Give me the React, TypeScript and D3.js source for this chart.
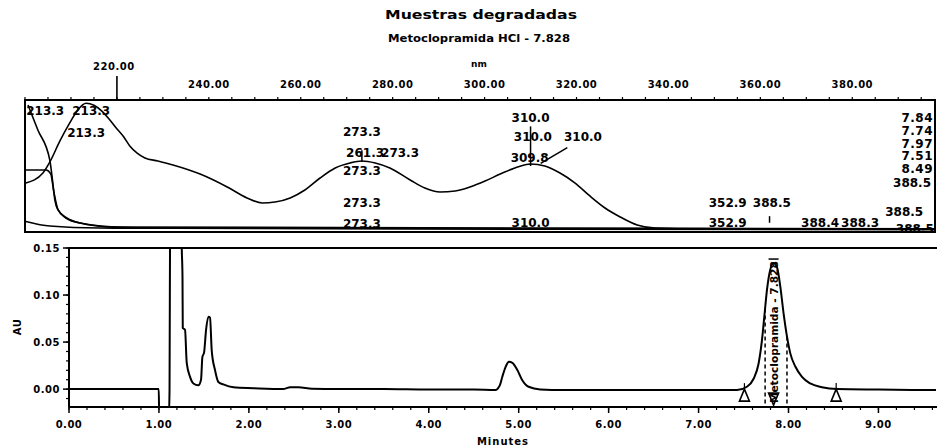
import React from "react";
import * as d3 from "d3";

const WIDTH = 939;
const HEIGHT = 447;

// ---- PDA spectra: [wavelength nm, relative absorbance] ----
const spectrum784: [number, number][] = [
  [200.2, 0.371], [203.9, 0.447], [205.4, 0.53], [207.6, 0.69], [209.8, 0.83],
  [211.6, 0.93], [213.3, 0.975], [215.0, 0.96], [216.6, 0.92], [218.2, 0.86],
  [219.8, 0.79], [221.5, 0.72], [222.8, 0.652], [224.4, 0.598], [226.1, 0.561],
  [228.9, 0.538], [232.2, 0.508], [238.1, 0.439], [244.0, 0.341], [248.3, 0.258],
  [251.6, 0.22], [254.4, 0.227], [257.7, 0.258], [260.9, 0.318], [264.2, 0.409],
  [267.5, 0.485], [270.7, 0.523], [273.3, 0.538], [276.2, 0.523], [279.4, 0.485],
  [283.8, 0.394], [287.0, 0.333], [290.3, 0.303], [293.6, 0.311], [296.8, 0.341],
  [300.1, 0.386], [303.4, 0.439], [306.6, 0.485], [310.0, 0.515], [313.1, 0.5],
  [316.4, 0.447], [319.7, 0.371], [322.9, 0.273], [326.2, 0.182], [329.5, 0.114],
  [333.2, 0.053], [337.1, 0.03], [346.9, 0.023], [398.0, 0.023],
];
const spectrum751: [number, number][] = [
  [200.65, 0.962], [202.8, 0.773], [205.4, 0.545], [206.1, 0.356], [206.5, 0.242],
  [207.2, 0.167], [209.1, 0.106], [212.0, 0.068], [218.5, 0.038], [229.4, 0.03],
  [398.0, 0.023],
];
const spectrum797: [number, number][] = [
  [200.2, 0.47], [204.6, 0.47], [205.6, 0.44], [206.3, 0.3], [207.2, 0.167],
  [208.9, 0.106], [212.0, 0.068], [221.0, 0.038], [398.0, 0.025],
];
const spectrum849: [number, number][] = [
  [200.2, 0.08], [205.4, 0.045], [216.3, 0.03], [232.0, 0.028], [398.0, 0.018],
];

// retention times of the overlaid spectra
const spectrumTimes = ["7.84", "7.74", "7.97", "7.51", "8.49"];

// wavelength axis
const wavelengthTicks = [240, 260, 280, 300, 320, 340, 360, 380];
const selectedWavelength = 220;

// peak maxima labels: [text, wavelength nm, relative absorbance]
const peakLabels: [string, number, number][] = [
  ["213.3", 204.4, 0.886],
  ["213.3", 214.4, 0.886],
  ["213.3", 213.3, 0.72],
  ["273.3", 273.3, 0.727],
  ["261.3", 274.0, 0.568],
  ["273.3", 281.6, 0.568],
  ["273.3", 273.3, 0.432],
  ["273.3", 273.3, 0.189],
  ["273.3", 273.3, 0.03],
  ["310.0", 310.0, 0.833],
  ["310.0", 310.5, 0.689],
  ["310.0", 321.4, 0.689],
  ["309.8", 309.8, 0.53],
  ["310.0", 310.0, 0.038],
  ["352.9", 352.9, 0.189],
  ["388.5", 362.5, 0.189],
  ["352.9", 352.9, 0.038],
  ["388.4", 373.0, 0.038],
  ["388.3", 381.7, 0.038],
  ["388.5", 391.3, 0.121],
  ["388.5", 393.0, 0.34],
  ["388.5", 393.6, -0.01],
];
// apex markers under labels: [wavelength, from, to]
const apexMarkers: [number, number, number][] = [
  [273.3, 0.53, 0.62],
  [310.0, 0.5, 0.8],
  [362.0, 0.07, 0.12],
];

// ---- chromatogram: [minutes, AU] ----
const chromatogram: [number, number][] = [
  [0, 0], [0.5, 0], [0.998, 0], [1.003, -0.03], [1.11, -0.03], [1.118, 0],
  [1.125, 0.2], [1.24, 0.22], [1.254, 0.148], [1.262, 0.119], [1.265, 0.065],
  [1.29, 0.063], [1.309, 0.028], [1.346, 0.013], [1.383, 0.006], [1.438, 0.004],
  [1.468, 0.01], [1.483, 0.034], [1.502, 0.039], [1.524, 0.063], [1.55, 0.077],
  [1.568, 0.076], [1.587, 0.041], [1.624, 0.02], [1.661, 0.0075], [1.716, 0.005],
  [1.828, 0.002], [2.05, 0.001], [2.38, 0], [2.46, 0.002], [2.55, 0.002],
  [2.7, 0.0005], [3.0, 0], [3.5, 0], [4.0, -0.0005], [4.5, -0.0005],
  [4.739, -0.001], [4.79, 0.004], [4.818, 0.0132], [4.855, 0.0237], [4.892, 0.029],
  [4.93, 0.028], [4.985, 0.0203], [5.04, 0.0095], [5.11, 0.0025], [5.24, -0.0003],
  [5.5, -0.001], [6.0, -0.001], [6.5, -0.0008], [7.0, -0.001], [7.427, -0.001],
  [7.538, 0.0025], [7.612, 0.011], [7.667, 0.027], [7.705, 0.052], [7.731, 0.077],
  [7.76, 0.105], [7.797, 0.127], [7.834, 0.134], [7.871, 0.13], [7.909, 0.109],
  [7.946, 0.08], [7.983, 0.056], [8.02, 0.038], [8.076, 0.024], [8.15, 0.013],
  [8.242, 0.006], [8.372, 0.002], [8.54, 0], [9.0, -0.0005], [9.64, -0.001],
];
const timeTicks = [0, 1, 2, 3, 4, 5, 6, 7, 8, 9];
const auTicks = [0, 0.05, 0.1, 0.15];
const dropLineTimes = [7.74, 7.983];
const baselineMarks = [7.51, 8.53];
const apexTime = 7.834;
const peakName = "Metoclopramida - 7.828";

const title = "Muestras degradadas";
const subtitle = "Metoclopramida HCl - 7.828";

export default function App() {
  // spectrum panel
  const sp = { left: 25, right: 935, top: 100, bottom: 232 };
  const xNm = d3.scaleLinear().domain([200, 398]).range([sp.left, sp.right]);
  const ySp = d3.scaleLinear().domain([0, 1]).range([sp.bottom, sp.top]);
  const specLine = d3
    .line<[number, number]>()
    .x((d) => xNm(d[0]))
    .y((d) => ySp(d[1]))
    .curve(d3.curveMonotoneX);

  // chromatogram panel
  const cp = { left: 69, right: 937, top: 248, bottom: 407 };
  const xT = d3.scaleLinear().domain([0, 9.64]).range([cp.left, 936]);
  const yAU = d3.scaleLinear().domain([-0.019, 0.15]).range([cp.bottom, cp.top]);
  const chromLine = d3
    .line<[number, number]>()
    .x((d) => xT(d[0]))
    .y((d) => yAU(d[1]))
    .curve(d3.curveMonotoneX);

  const bis = d3.bisector((d: [number, number]) => d[0]).left;
  const auAt = (t: number) => {
    const i = Math.max(1, Math.min(chromatogram.length - 1, bis(chromatogram, t)));
    const a = chromatogram[i - 1];
    const b = chromatogram[i];
    return a[1] + ((t - a[0]) / (b[0] - a[0])) * (b[1] - a[1]);
  };

  const fmt2 = d3.format(".2f");
  const nmMinor = d3.range(200, 400, 5);
  const tMinor = d3.range(0, 9.64, 0.2);
  const auMinor = d3.range(-0.01, 0.151, 0.01);

  const labelFont = {
    fontFamily: "'DejaVu Sans', sans-serif",
    fontSize: 12,
    fontWeight: "bold",
  } as const;
  const axisFont = {
    fontFamily: "'DejaVu Sans', sans-serif",
    fontSize: 10,
    fontWeight: "bold",
    letterSpacing: 0.5,
  } as const;

  return (
    <svg
      width={WIDTH}
      height={HEIGHT}
      viewBox={`0 0 ${WIDTH} ${HEIGHT}`}
      style={{ position: "absolute", left: 0, top: 0, background: "#fff" }}
    >
      <defs>
        <clipPath id="spec-clip">
          <rect x={sp.left} y={sp.top} width={sp.right - sp.left} height={sp.bottom - sp.top} />
        </clipPath>
        <clipPath id="chrom-clip">
          <rect x={cp.left} y={cp.top} width={cp.right - cp.left} height={cp.bottom - cp.top} />
        </clipPath>
      </defs>
      <rect width={WIDTH} height={HEIGHT} fill="#fff" />

      {/* titles */}
      <text x={481} y={19} textAnchor="middle" fontFamily="'DejaVu Sans', sans-serif"
        fontWeight="bold" fontSize={12} textLength={192} lengthAdjust="spacingAndGlyphs">
        {title}
      </text>
      <text x={479} y={42} textAnchor="middle" fontFamily="'DejaVu Sans', sans-serif"
        fontWeight="bold" fontSize={10} textLength={182} lengthAdjust="spacingAndGlyphs">
        {subtitle}
      </text>
      <text x={479} y={67} textAnchor="middle" fontFamily="'DejaVu Sans', sans-serif"
        fontWeight="bold" fontSize={9}>
        nm
      </text>

      {/* ---------- spectrum panel ---------- */}
      <g>
        {nmMinor.map((v) => (
          <line key={v} x1={xNm(v)} x2={xNm(v)} y1={sp.top} y2={sp.top - 3} stroke="#000" strokeWidth={1.2} />
        ))}
        <line x1={xNm(selectedWavelength)} x2={xNm(selectedWavelength)} y1={sp.top} y2={76} stroke="#000" strokeWidth={1.6} />
        <text x={xNm(selectedWavelength) - 3} y={70} textAnchor="middle" {...axisFont}>
          {fmt2(selectedWavelength)}
        </text>
        {wavelengthTicks.map((v) => (
          <text key={v} x={xNm(v)} y={88} textAnchor="middle" {...axisFont}>
            {fmt2(v)}
          </text>
        ))}
        <rect x={sp.left} y={sp.top} width={sp.right - sp.left} height={sp.bottom - sp.top}
          fill="none" stroke="#000" strokeWidth={2} />
      </g>
      <g clipPath="url(#spec-clip)">
        {[spectrum849, spectrum797, spectrum751, spectrum784].map((s, i) => (
          <path key={i} d={specLine(s) ?? ""} fill="none" stroke="#000" strokeWidth={1.6} />
        ))}
        {apexMarkers.map(([nm, a, b], i) => (
          <line key={i} x1={xNm(nm)} x2={xNm(nm)} y1={ySp(a)} y2={ySp(b)} stroke="#000" strokeWidth={1.5} />
        ))}
        <line x1={xNm(312.2)} y1={ySp(0.52)} x2={xNm(318)} y2={ySp(0.64)} stroke="#000" strokeWidth={1.5} />
        {peakLabels.map(([t, nm, v], i) => (
          <text key={i} x={xNm(nm)} y={ySp(v)} textAnchor="middle" {...labelFont}>
            {t}
          </text>
        ))}
        {spectrumTimes.map((t, i) => (
          <text key={t} x={933} y={122 + i * 12.8} textAnchor="end" {...labelFont} letterSpacing={0.5}>
            {t}
          </text>
        ))}
      </g>

      {/* ---------- chromatogram panel ---------- */}
      <g>
        <line x1={cp.left} x2={cp.right} y1={cp.top} y2={cp.top} stroke="#000" strokeWidth={2} />
        <line x1={cp.left} x2={cp.left} y1={cp.top} y2={cp.bottom} stroke="#000" strokeWidth={2} />
        <line x1={cp.left} x2={cp.right} y1={cp.bottom} y2={cp.bottom} stroke="#000" strokeWidth={2} />
        {tMinor.map((v) => (
          <line key={v} x1={xT(v)} x2={xT(v)} y1={cp.bottom} y2={cp.bottom + 3} stroke="#000" strokeWidth={1.2} />
        ))}
        {timeTicks.map((v) => (
          <g key={v}>
            <line x1={xT(v)} x2={xT(v)} y1={cp.bottom} y2={cp.bottom + 6} stroke="#000" strokeWidth={1.5} />
            <text x={xT(v)} y={428} textAnchor="middle" {...axisFont}>
              {fmt2(v)}
            </text>
          </g>
        ))}
        {auMinor.map((v) => (
          <line key={v} x1={cp.left} x2={cp.left - 3} y1={yAU(v)} y2={yAU(v)} stroke="#000" strokeWidth={1.2} />
        ))}
        {auTicks.map((v) => (
          <g key={v}>
            <line x1={cp.left} x2={cp.left - 6} y1={yAU(v)} y2={yAU(v)} stroke="#000" strokeWidth={1.5} />
            <text x={60} y={yAU(v) + 4} textAnchor="end" {...axisFont}>
              {fmt2(v)}
            </text>
          </g>
        ))}
        <text transform="translate(21,327) rotate(-90)" textAnchor="middle" {...axisFont}>
          AU
        </text>
        <text x={503} y={445} textAnchor="middle" {...axisFont} letterSpacing={1}>
          Minutes
        </text>
      </g>
      <g clipPath="url(#chrom-clip)">
        <path d={chromLine(chromatogram) ?? ""} fill="none" stroke="#000" strokeWidth={2} />
        {dropLineTimes.map((t) => (
          <line key={t} x1={xT(t)} x2={xT(t)} y1={yAU(auAt(t))} y2={cp.bottom}
            stroke="#000" strokeWidth={1.5} strokeDasharray="4,3" />
        ))}
        {baselineMarks.map((t) => {
          const x = xT(t);
          const y = yAU(0);
          return (
            <g key={t}>
              <line x1={x} x2={x} y1={y - 6} y2={y} stroke="#000" strokeWidth={1.2} />
              <path d={`M${x - 5},${y + 12}L${x + 5},${y + 12}L${x},${y}Z`} fill="#fff" stroke="#000" strokeWidth={1.6} />
            </g>
          );
        })}
        <path
          d={`M${xT(apexTime) - 5},${yAU(0) + 4}L${xT(apexTime) + 5},${yAU(0) + 4}L${xT(apexTime)},${yAU(0) + 16}Z`}
          fill="#fff" stroke="#000" strokeWidth={1.6}
        />
        <line x1={xT(apexTime) - 5} x2={xT(apexTime) + 5} y1={yAU(0.134) - 4} y2={yAU(0.134) - 4}
          stroke="#000" strokeWidth={1.5} />
        <text
          transform={`translate(${xT(apexTime) + 4},${yAU(0) + 14}) rotate(-90)`}
          fontFamily="'DejaVu Sans', sans-serif" fontSize={10} fontWeight="bold"
          textLength={142} lengthAdjust="spacingAndGlyphs"
        >
          {peakName}
        </text>
      </g>
    </svg>
  );
}
